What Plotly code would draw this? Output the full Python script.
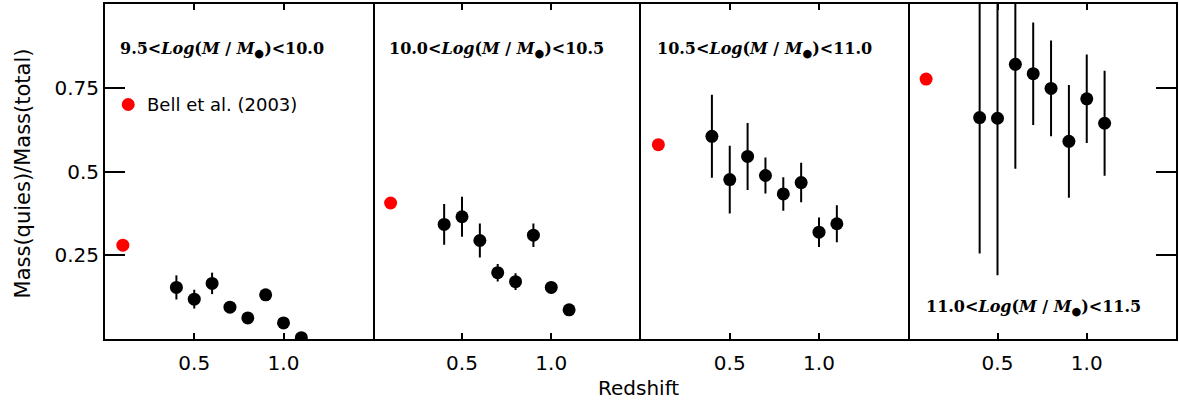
import plotly.graph_objects as go
from plotly.subplots import make_subplots

# ---- data ----
redshift = [0.4, 0.5, 0.6, 0.7, 0.8, 0.9, 1.0, 1.1]

frac_bin1 = [0.154, 0.119, 0.166, 0.095, 0.063, 0.132, 0.048, 0.004]
err_bin1 = [0.036, 0.028, 0.032, 0.015, 0.012, 0.015, 0.012, 0.010]

frac_bin2 = [0.342, 0.365, 0.294, 0.198, 0.171, 0.310, 0.154, 0.087]
err_bin2 = [0.061, 0.060, 0.051, 0.026, 0.025, 0.035, 0.018, 0.010]

frac_bin3 = [0.605, 0.476, 0.545, 0.488, 0.433, 0.467, 0.319, 0.344]
err_bin3 = [0.124, 0.101, 0.100, 0.054, 0.050, 0.059, 0.044, 0.055]

frac_bin4 = [0.661, 0.659, 0.820, 0.792, 0.748, 0.590, 0.717, 0.644]
err_bin4 = [0.406, 0.469, 0.312, 0.153, 0.143, 0.168, 0.132, 0.157]

bell_z = 0.1
bell_frac = [0.28, 0.406, 0.58, 0.776]

bin_labels = [
    "9.5<<i>Log</i>(<i>M</i> / <i>M</i><sub>●</sub>)<10.0",
    "10.0<<i>Log</i>(<i>M</i> / <i>M</i><sub>●</sub>)<10.5",
    "10.5<<i>Log</i>(<i>M</i> / <i>M</i><sub>●</sub>)<11.0",
    "11.0<<i>Log</i>(<i>M</i> / <i>M</i><sub>●</sub>)<11.5",
]
label_pos_x = [0.658, 0.695, 0.697, 0.70]
label_pos_y = [0.865, 0.865, 0.865, 0.093]

legend_x = [0.13]
legend_y = [0.70]
legend_text = "Bell et al. (2003)"

x_ticks = [0.5, 1.0]
x_ticklabels = ["0.5", "1.0"]
y_ticks = [0.25, 0.5, 0.75]
y_ticklabels = ["0.25", "0.5", "0.75"]

fracs = [frac_bin1, frac_bin2, frac_bin3, frac_bin4]
errs = [err_bin1, err_bin2, err_bin3, err_bin4]

# ---- figure ----
fig = make_subplots(rows=1, cols=4, shared_yaxes=True, horizontal_spacing=0)

for i in range(4):
    col = i + 1
    fig.add_trace(go.Scatter(
        x=redshift, y=fracs[i], mode="markers",
        marker=dict(color="black", size=13),
        error_y=dict(type="data", array=errs[i], color="black", thickness=2, width=0),
        showlegend=False, cliponaxis=True,
    ), row=1, col=col)
    fig.add_trace(go.Scatter(
        x=[bell_z], y=[bell_frac[i]], mode="markers",
        marker=dict(color="red", size=13),
        showlegend=False,
    ), row=1, col=col)
    xref = "x" if i == 0 else f"x{col}"
    yref = "y" if i == 0 else f"y{col}"
    fig.add_annotation(
        x=label_pos_x[i], y=label_pos_y[i], xref=xref, yref=yref,
        text="<b>" + bin_labels[i] + "</b>", showarrow=False,
        font=dict(family="DejaVu Serif", size=16, color="black"),
        xanchor="center", yanchor="middle",
    )

# legend marker + text in first panel
fig.add_trace(go.Scatter(
    x=legend_x, y=legend_y, mode="markers",
    marker=dict(color="red", size=13), showlegend=False,
), row=1, col=1)
fig.add_annotation(
    x=legend_x[0], y=legend_y[0], xref="x", yref="y",
    text=legend_text, showarrow=False, xanchor="left", yanchor="middle",
    xshift=17, font=dict(family="DejaVu Sans", size=18, color="black"),
)

axis_font = dict(family="DejaVu Sans", size=20, color="black")

for i in range(4):
    col = i + 1
    fig.update_xaxes(
        range=[0, 1.5], tickvals=x_ticks, ticktext=x_ticklabels,
        ticks="inside", ticklen=6, tickwidth=2, tickcolor="black",
        showline=True, linecolor="black", linewidth=2, mirror="ticks",
        showgrid=False, zeroline=False, tickfont=axis_font,
        ticklabelstandoff=5,
        row=1, col=col,
    )

common_y = dict(range=[0, 1], linecolor="black", linewidth=2,
                showgrid=False, zeroline=False, tickvals=y_ticks, ticktext=y_ticklabels)
fig.update_yaxes(**common_y, showline=True, ticks="inside", ticklen=20, tickwidth=2,
                 tickcolor="black", mirror=True, side="left", showticklabels=True,
                 tickfont=axis_font, row=1, col=1)
fig.update_yaxes(**common_y, showline=False, ticks="", showticklabels=False, row=1, col=2)
fig.update_yaxes(**common_y, showline=True, ticks="", mirror=True, showticklabels=False,
                 row=1, col=3)
fig.update_yaxes(**common_y, showline=True, ticks="inside", ticklen=20, tickwidth=2,
                 tickcolor="black", mirror=False, side="right", showticklabels=False,
                 row=1, col=4)

fig.add_annotation(
    x=-0.0766, y=0.494, xref="paper", yref="paper", text="Mass(quies)/Mass(total)",
    textangle=-90, showarrow=False, xanchor="center", yanchor="middle",
    font=dict(family="DejaVu Sans", size=21, color="black"),
)
fig.add_annotation(
    x=0.498, y=-0.145, xref="paper", yref="paper", text="Redshift",
    showarrow=False, xanchor="center", yanchor="middle",
    font=dict(family="DejaVu Sans", size=20, color="black"),
)

fig.update_layout(
    width=1179, height=410,
    margin=dict(l=105, r=3, t=2, b=71),
    plot_bgcolor="white", paper_bgcolor="white",
)

fig.write_html("out.html", config={"displayModeBar": False},
               post_script="document.body.style.margin='0px';")
